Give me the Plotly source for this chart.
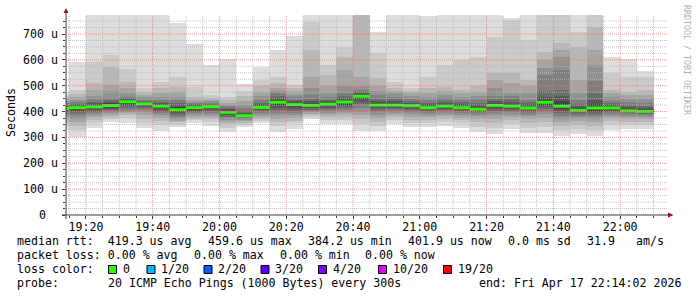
import plotly.graph_objects as go
from datetime import datetime, timedelta

DAY = "2026-04-17"
x_range = ["2026-04-17 19:14:02", "2026-04-17 22:14:02"]
y_top = 773.5

bar_start = ["19:10", "19:15", "19:20", "19:25", "19:30", "19:35", "19:40", "19:45", "19:50", "19:55",
             "20:00", "20:05", "20:10", "20:15", "20:20", "20:25", "20:30", "20:35", "20:40", "20:45",
             "20:50", "20:55", "21:00", "21:05", "21:10", "21:15", "21:20", "21:25", "21:30", "21:35",
             "21:40", "21:45", "21:50", "21:55", "22:00", "22:05"]
step_s = 300

median_us = [412, 415, 418, 423, 438, 430, 421, 407, 415, 419, 397, 384, 416, 436, 427, 424, 429, 437,
             459, 425, 425, 423, 415, 421, 415, 409, 424, 421, 414, 436, 421, 405, 414, 414, 403, 401]

# 20 sorted ping RTTs (us) per 5-minute step
ping_us = [
    [329, 345, 360, 372, 382, 392, 398, 403, 407, 410, 414, 418, 422, 427, 433, 440, 448, 457, 466, 477],
    [303, 329, 345, 360, 372, 385, 395, 402, 407, 411, 418, 421, 425, 430, 437, 445, 455, 468, 483, 593],
    [335, 354, 367, 378, 387, 393, 400, 405, 410, 415, 422, 427, 432, 438, 447, 460, 483, 509, 593, 780],
    [361, 372, 380, 387, 395, 400, 406, 411, 415, 420, 427, 432, 438, 445, 451, 480, 503, 573, 618, 780],
    [357, 374, 385, 393, 400, 408, 415, 422, 428, 434, 441, 444, 447, 452, 458, 470, 490, 515, 563, 780],
    [335, 354, 370, 385, 398, 405, 412, 418, 422, 427, 433, 435, 438, 441, 445, 455, 465, 477, 490, 780],
    [326, 348, 362, 375, 385, 393, 400, 408, 413, 418, 425, 428, 432, 438, 445, 455, 470, 490, 515, 780],
    [339, 350, 358, 365, 372, 380, 387, 393, 398, 403, 412, 418, 425, 432, 445, 458, 475, 496, 535, 741],
    [357, 367, 372, 380, 387, 393, 398, 403, 408, 412, 418, 421, 425, 428, 432, 438, 445, 458, 496, 660],
    [344, 361, 370, 380, 388, 395, 402, 407, 412, 416, 421, 424, 427, 430, 435, 440, 445, 452, 464, 580],
    [320, 338, 352, 360, 367, 374, 380, 385, 390, 394, 401, 405, 410, 415, 420, 427, 435, 445, 457, 602],
    [341, 350, 357, 363, 368, 372, 376, 379, 381, 383, 386, 390, 396, 404, 413, 425, 440, 460, 478, 505],
    [357, 364, 372, 380, 388, 395, 401, 406, 410, 413, 419, 423, 428, 435, 445, 460, 477, 500, 522, 574],
    [322, 345, 360, 372, 385, 395, 405, 415, 425, 432, 440, 445, 452, 460, 470, 480, 490, 510, 535, 638],
    [333, 354, 365, 375, 385, 395, 403, 410, 416, 422, 431, 435, 440, 445, 455, 465, 480, 490, 503, 692],
    [370, 378, 385, 391, 397, 402, 407, 412, 416, 420, 428, 433, 440, 450, 465, 490, 535, 640, 748, 780],
    [352, 367, 378, 387, 395, 402, 409, 415, 420, 425, 433, 437, 441, 445, 455, 470, 500, 540, 580, 780],
    [352, 367, 380, 390, 398, 406, 413, 420, 426, 432, 441, 446, 452, 460, 470, 500, 560, 610, 651, 780],
    [325, 352, 370, 385, 400, 415, 428, 438, 448, 456, 462, 466, 470, 476, 483, 500, 535, 790, 800, 810],
    [325, 345, 360, 375, 387, 397, 405, 412, 418, 422, 428, 433, 440, 450, 465, 480, 500, 528, 625, 706],
    [352, 367, 378, 388, 396, 403, 409, 414, 418, 422, 428, 433, 440, 448, 458, 470, 480, 490, 515, 780],
    [339, 354, 367, 380, 390, 398, 405, 411, 416, 420, 426, 430, 435, 442, 450, 460, 470, 480, 490, 780],
    [339, 354, 367, 378, 388, 395, 402, 407, 411, 413, 418, 422, 428, 435, 445, 458, 470, 490, 535, 769],
    [344, 360, 372, 382, 391, 399, 406, 411, 415, 418, 424, 428, 434, 442, 452, 465, 480, 496, 580, 780],
    [338, 354, 366, 377, 386, 394, 401, 406, 410, 413, 418, 422, 428, 436, 446, 458, 470, 483, 600, 780],
    [320, 342, 358, 372, 383, 392, 399, 404, 407, 409, 413, 418, 425, 435, 447, 459, 475, 497, 613, 780],
    [313, 336, 356, 372, 385, 395, 403, 410, 416, 421, 427, 432, 440, 450, 459, 490, 523, 549, 687, 780],
    [333, 352, 366, 378, 388, 397, 404, 410, 415, 419, 424, 430, 437, 447, 460, 472, 510, 549, 753, 760],
    [318, 338, 355, 370, 382, 392, 400, 406, 410, 413, 417, 422, 428, 437, 446, 470, 500, 523, 678, 780],
    [318, 340, 358, 375, 390, 400, 410, 418, 425, 433, 440, 447, 455, 480, 540, 567, 600, 631, 790, 800],
    [307, 328, 345, 360, 372, 383, 393, 402, 410, 418, 428, 440, 460, 483, 560, 612, 640, 664, 790, 800],
    [312, 332, 348, 362, 374, 384, 392, 398, 402, 404, 408, 413, 420, 430, 445, 470, 522, 650, 709, 780],
    [307, 328, 345, 360, 372, 382, 391, 398, 404, 409, 420, 430, 445, 470, 520, 580, 640, 728, 790, 800],
    [329, 348, 362, 374, 384, 392, 399, 404, 408, 411, 417, 421, 426, 433, 442, 455, 470, 483, 548, 612],
    [331, 348, 361, 371, 380, 388, 394, 398, 401, 403, 407, 411, 417, 425, 436, 450, 465, 477, 535, 603],
    [331, 348, 360, 370, 379, 386, 392, 396, 399, 401, 405, 409, 415, 423, 433, 447, 465, 483, 532, 558],
]

band_gray = [221, 202, 183, 164, 145, 126, 107, 88, 69, 50]
y_ticks = [0, 100, 200, 300, 400, 500, 600, 700]

# legend texts: (text, left x px, centre y px)
legend_items = [
    ("median rtt:  419.3 us avg", 16, 241.3),
    ("459.6 us max", 206.7, 241.3),
    ("384.2 us min", 306.7, 241.3),
    ("401.9 us now", 406.7, 241.3),
    ("0.0 ms sd", 507, 241.3),
    ("31.9", 586, 241.3),
    ("am/s", 635, 241.3),
    ("packet loss: 0.00 % avg", 16, 255.0),
    ("0.00 % max", 193, 255.0),
    ("0.00 % min", 279.3, 255.0),
    ("0.00 % now", 364, 255.0),
    ("loss color:", 16, 268.7),
    ("probe:", 16, 282.5),
    ("20 ICMP Echo Pings (1000 Bytes) every 300s", 107, 282.5),
    ("end: Fri Apr 17 22:14:02 2026", 478, 282.5),
]
loss_labels = ["0", "1/20", "2/20", "3/20", "4/20", "10/20", "19/20"]
loss_colors = ["#26ff00", "#00b8ff", "#0059ff", "#5e00ff", "#7e00ff", "#dd00ff", "#ff0000"]
loss_box_px = [108, 146.5, 203.5, 260.5, 318, 378, 443]

FONT = "DejaVu Sans Mono"
FS = 11.6
W, H = 697, 297
L, R, T, B = 66, 30, 15, 82
PW, PH = W - L - R, H - T - B


def ts(hm):
    return datetime.strptime(DAY + " " + hm, "%Y-%m-%d %H:%M")


def px2x(px):
    return (px - L) / PW


def px2y(py):
    return (T + PH - py) / PH


xs = [ts(t) for t in bar_start]
fig = go.Figure()

# smoke bands
for i, g in enumerate(band_gray):
    base = [p[i] for p in ping_us]
    height = [p[19 - i] - p[i] for p in ping_us]
    fig.add_trace(go.Bar(
        x=xs, y=height, base=base, width=step_s * 1000, offset=0,
        marker=dict(color=f"rgb({g},{g},{g})", line=dict(width=0)),
        hoverinfo="skip"))

# median line segments
mx, my = [], []
for t, m in zip(xs, median_us):
    mx += [t, t + timedelta(seconds=step_s), None]
    my += [m, m, None]
fig.add_trace(go.Scatter(x=mx, y=my, mode="lines",
                         line=dict(color=loss_colors[0], width=3), hoverinfo="skip"))

shapes = []
minor_c = "rgba(185,185,185,0.85)"
major_c = "rgba(228,120,120,0.8)"
dash = "1px,1px"
# vertical grid
t = ts("19:15")
t_end = datetime.strptime(x_range[1], "%Y-%m-%d %H:%M:%S")
while t < t_end:
    major = (t.minute % 20 == 0)
    shapes.append(dict(type="line", xref="x", yref="paper", x0=t, x1=t, y0=0, y1=1,
                       line=dict(color=major_c if major else minor_c, width=1, dash=dash),
                       layer="above"))
    t += timedelta(minutes=5)
# horizontal grid
v = 25
while v < y_top:
    major = (v % 100 == 0)
    shapes.append(dict(type="line", xref="paper", yref="y", x0=0, x1=1, y0=v, y1=v,
                       line=dict(color=major_c if major else minor_c, width=1, dash=dash),
                       layer="above"))
    v += 25

axis_c = "#3a3a3a"
arrow_c = "#a01010"
shapes.append(dict(type="line", xref="paper", yref="paper", x0=px2x(62), x1=px2x(669), y0=0, y1=0,
                   line=dict(color=axis_c, width=1), layer="above"))
shapes.append(dict(type="line", xref="paper", yref="paper", x0=0, x1=0, y0=px2y(219), y1=px2y(12),
                   line=dict(color=axis_c, width=1), layer="above"))
shapes.append(dict(type="path", xref="paper", yref="paper",
                   path=f"M {px2x(668)} {px2y(212.5)} L {px2x(673.5)} {px2y(215)} L {px2x(668)} {px2y(217.5)} Z",
                   fillcolor=arrow_c, line=dict(width=0), layer="above"))
shapes.append(dict(type="path", xref="paper", yref="paper",
                   path=f"M {px2x(63.5)} {px2y(13)} L {px2x(66)} {px2y(8)} L {px2x(68.5)} {px2y(13)} Z",
                   fillcolor=arrow_c, line=dict(width=0), layer="above"))

annotations = []
for v in y_ticks:
    label = "0" if v == 0 else f"{v} u"
    xr = 48 if v == 0 else 59.5
    annotations.append(dict(xref="paper", yref="y", x=px2x(xr), y=v, text=label, showarrow=False,
                            xanchor="right", yanchor="middle",
                            font=dict(family=FONT, size=FS, color="#000")))
annotations.append(dict(xref="paper", yref="paper", x=px2x(11), y=px2y(113), text="Seconds",
                        textangle=-90, showarrow=False, xanchor="center", yanchor="middle",
                        font=dict(family=FONT, size=FS, color="#000")))
annotations.append(dict(xref="paper", yref="paper", x=px2x(687), y=px2y(60), text="RRDTOOL / TOBI OETIKER",
                        textangle=90, showarrow=False, xanchor="center", yanchor="middle",
                        font=dict(family=FONT, size=8.3, color="#b0b0b0")))

for txt, xx, yy in legend_items:
    annotations.append(dict(xref="paper", yref="paper", x=px2x(xx - 1), y=px2y(yy),
                            text=txt.replace(" ", "\u00a0"), showarrow=False,
                            xanchor="left", yanchor="middle",
                            font=dict(family=FONT, size=FS, color="#000")))
for lbl, col, bx in zip(loss_labels, loss_colors, loss_box_px):
    shapes.append(dict(type="rect", xref="paper", yref="paper",
                       x0=px2x(bx + 0.5), x1=px2x(bx + 8.5), y0=px2y(273.5), y1=px2y(265.5),
                       fillcolor=col, line=dict(color="#000", width=1), layer="above"))
    annotations.append(dict(xref="paper", yref="paper", x=px2x(bx + 12.5), y=px2y(268.7),
                            text=lbl, showarrow=False, xanchor="left", yanchor="middle",
                            font=dict(family=FONT, size=FS, color="#000")))

fig.update_layout(
    width=W, height=H, autosize=False,
    margin=dict(l=L, r=R, t=T, b=B, pad=0),
    paper_bgcolor="white", plot_bgcolor="white",
    barmode="overlay", bargap=0, showlegend=False,
    font=dict(family=FONT, size=FS, color="#000"),
    shapes=shapes, annotations=annotations,
)
fig.update_xaxes(type="date", range=x_range, showgrid=False, zeroline=False, showline=False,
                 tickformat="%H:%M", dtick=20 * 60 * 1000, tick0=DAY + " 19:20:00",
                 ticks="outside", ticklen=3, tickcolor=axis_c, tickwidth=1, ticklabelstandoff=-2,
                 tickfont=dict(family=FONT, size=FS, color="#000"),
                 minor=dict(dtick=5 * 60 * 1000, tick0=DAY + " 19:15:00", ticks="outside",
                            ticklen=2, tickcolor=axis_c, showgrid=False))
fig.update_yaxes(range=[0, y_top], showgrid=False, zeroline=False, showline=False,
                 showticklabels=False, ticks="outside", ticklen=3, tickcolor=axis_c,
                 dtick=100, tick0=0,
                 minor=dict(dtick=25, ticks="outside", ticklen=2, tickcolor=axis_c, showgrid=False))

fig.write_html("out.html")
